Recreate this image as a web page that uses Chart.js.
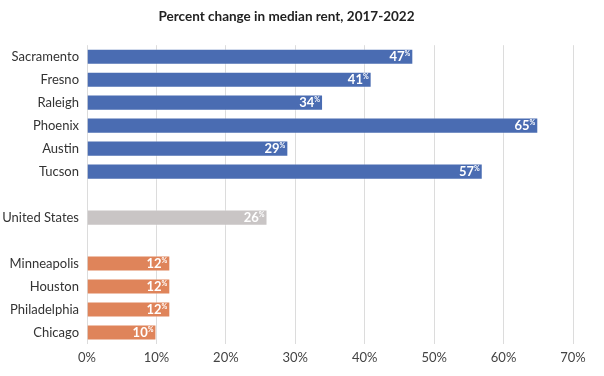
<!DOCTYPE html>
<html>
<head>
<meta charset="utf-8">
<script src="https://cdn.jsdelivr.net/npm/chart.js@4/dist/chart.umd.min.js"></script>
<style>
html,body{margin:0;padding:0;background:#fff;}
#wrap{width:604px;height:376px;}
</style>
</head>
<body>
<div id="wrap"><canvas id="c" width="604" height="376"></canvas></div>
<script>
const categories = ["Sacramento","Fresno","Raleigh","Phoenix","Austin","Tucson","","United States","","Minneapolis","Houston","Philadelphia","Chicago"];
const values = [47,41,34,65,29,57,null,26,null,12,12,12,10];
const groups = ["hot","hot","hot","hot","hot","hot","gap","us","gap","cool","cool","cool","cool"];
const xTicks = [0,10,20,30,40,50,60,70];
const groupColors = {hot:"#4a6cb2", us:"#c9c5c5", cool:"#df845a", gap:"rgba(0,0,0,0)"};

const valueLabels = {
  id:'valueLabels',
  afterDatasetsDraw(chart){
    const ctx = chart.ctx;
    const meta = chart.getDatasetMeta(0);
    ctx.save();
    meta.data.forEach((el,i)=>{
      const v = values[i];
      if(v===null) return;
      const xEnd = el.x - 3;
      const y = el.y;
      ctx.fillStyle = '#ffffff';
      ctx.textAlign = 'right';
      ctx.font = 'bold 7px Lato';
      const wp = ctx.measureText('%').width;
      ctx.textBaseline = 'alphabetic';
      ctx.fillText('%', xEnd, y - 1);
      ctx.font = 'bold 13px Lato';
      ctx.textBaseline = 'middle';
      ctx.fillText(String(v), xEnd - wp, y + 0.5);
    });
    ctx.restore();
  }
};

new Chart(document.getElementById('c'), {
  type:'bar',
  data:{
    labels:categories,
    datasets:[{
      data:values,
      backgroundColor:groups.map(g=>groupColors[g]),
      borderColor:'rgba(255,255,255,0.35)',
      borderWidth:1,
      categoryPercentage:1,
      barPercentage:0.7
    }]
  },
  options:{
    indexAxis:'y',
    responsive:false,
    animation:false,
    layout:{padding:{left:0,right:31,top:0,bottom:0}},
    plugins:{
      legend:{display:false},
      tooltip:{enabled:false},
      title:{
        display:true,
        text:'Percent change in median rent, 2017-2022',
        color:'#222',
        font:{family:'Lato',size:13.5,weight:'bold'},
        padding:{top:9,bottom:20}
      }
    },
    scales:{
      x:{
        min:0,max:70,
        afterBuildTicks(scale){ scale.ticks = xTicks.map(v=>({value:v})); },
        ticks:{
          callback:v=>v+'%',
          color:'#444',
          font:{family:'Lato',size:13},
          padding:6,
          maxRotation:0
        },
        grid:{color:'#dcdcdc',lineWidth:1,drawTicks:false},
        border:{display:false},
        afterFit(scale){ scale.height = 32; }
      },
      y:{
        ticks:{
          color:'#333',
          font:{family:'Lato',size:13},
          padding:8,
          autoSkip:false
        },
        grid:{display:false,drawTicks:false},
        border:{display:false},
        afterFit(scale){ scale.width = 87; }
      }
    }
  },
  plugins:[valueLabels]
});
</script>
</body>
</html>
